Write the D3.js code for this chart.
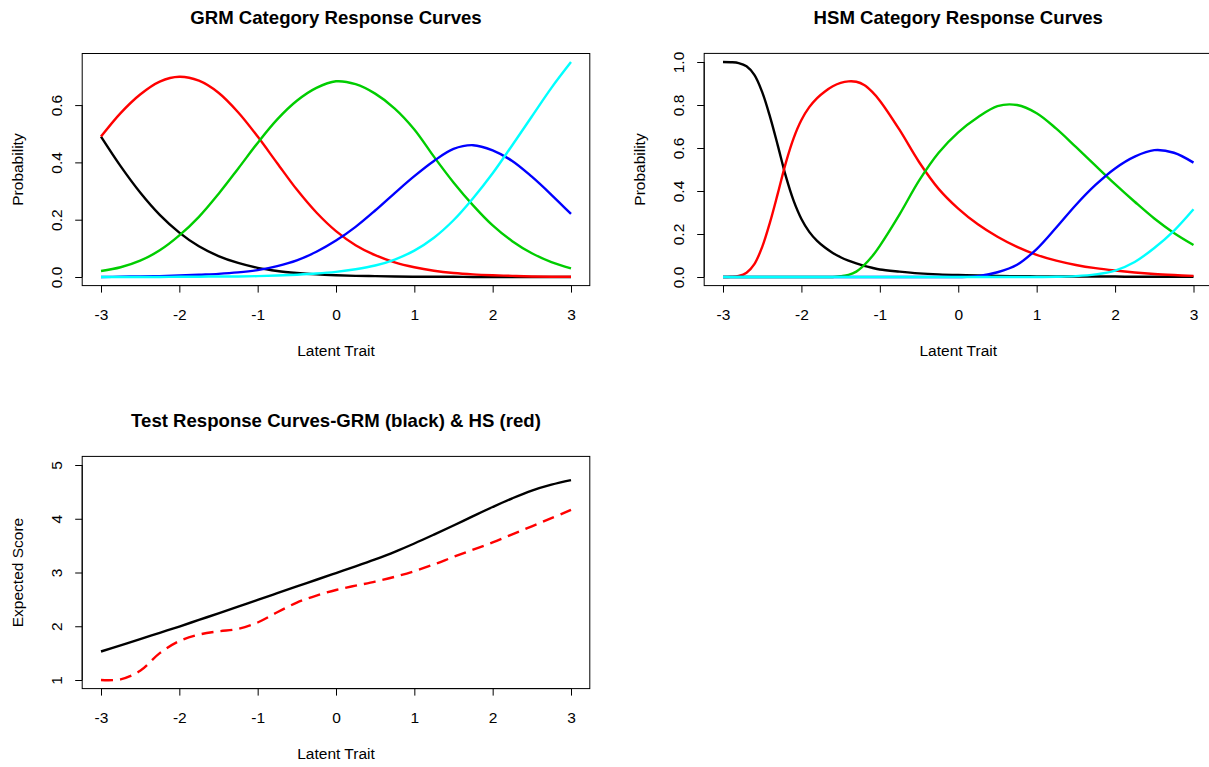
<!DOCTYPE html>
<html>
<head>
<meta charset="utf-8">
<title>GRM and HSM Category Response Curves</title>
<script src="https://d3js.org/d3.v7.min.js"></script>
<style>
  body { margin: 0; background: #fff; }
  svg { display: block; font-family: "Liberation Sans", Arial, Helvetica, sans-serif; }
</style>
</head>
<body>
<script>
// latent trait grid used for the GRM and the test response panel
var grmTheta = [-3, -2.75, -2.5, -2.25, -2, -1.75, -1.5, -1.25, -1, -0.75, -0.5, -0.25, 0,
                0.25, 0.5, 0.75, 1, 1.25, 1.5, 1.75, 2, 2.25, 2.5, 2.75, 3];

// GRM category probabilities
var grmCat1 = [0.49, 0.387, 0.295, 0.217, 0.155, 0.107, 0.073, 0.049, 0.032, 0.021, 0.014, 0.009, 0.006,
               0.004, 0.003, 0.002, 0.001, 0.001, 0.001, 0, 0, 0, 0, 0, 0];
var grmCat2 = [0.49, 0.572, 0.637, 0.682, 0.699, 0.685, 0.643, 0.575, 0.49, 0.397, 0.305, 0.225, 0.16,
               0.111, 0.076, 0.051, 0.034, 0.022, 0.014, 0.009, 0.006, 0.004, 0.002, 0.001, 0.001];
var grmCat3 = [0.021, 0.034, 0.057, 0.093, 0.145, 0.21, 0.29, 0.378, 0.468, 0.55, 0.615, 0.66, 0.683,
               0.673, 0.64, 0.588, 0.515, 0.42, 0.33, 0.25, 0.18, 0.125, 0.083, 0.052, 0.03];
var grmCat4 = [0, 0.001, 0.002, 0.003, 0.005, 0.008, 0.011, 0.016, 0.024, 0.038, 0.058, 0.088, 0.127,
               0.175, 0.232, 0.293, 0.352, 0.405, 0.447, 0.46, 0.442, 0.405, 0.35, 0.287, 0.22];
var grmCat5 = [0, 0, 0, 0, 0.001, 0.001, 0.002, 0.002, 0.003, 0.005, 0.008, 0.012, 0.018,
               0.027, 0.04, 0.061, 0.092, 0.137, 0.198, 0.275, 0.362, 0.46, 0.56, 0.66, 0.75];

// HSM grid is finer where the first curves change fast
var hsmTheta = [-3, -2.9, -2.8, -2.7, -2.6, -2.5, -2.4, -2.3, -2.2, -2.1, -2, -1.9, -1.8, -1.7, -1.6, -1.5,
                -1.4, -1.3, -1.2, -1.1, -1, -0.75, -0.5, -0.25, 0, 0.25, 0.5, 0.75, 1, 1.25, 1.5, 1.75, 2, 2.25, 2.5, 2.75, 3];
var hsmCat1 = [1.0, 0.999, 0.995, 0.98, 0.94, 0.86, 0.745, 0.61, 0.47, 0.355, 0.27, 0.21, 0.168, 0.137, 0.112, 0.092,
               0.076, 0.063, 0.052, 0.043, 0.035, 0.025, 0.017, 0.012, 0.009, 0.007, 0.005, 0.004, 0.003, 0.003, 0.002, 0.002, 0.002, 0.001, 0.001, 0.001, 0.001];
var hsmCat2 = [0, 0.001, 0.005, 0.02, 0.06, 0.14, 0.255, 0.39, 0.53, 0.645, 0.73, 0.79, 0.832, 0.863, 0.887, 0.903,
               0.91, 0.908, 0.893, 0.862, 0.82, 0.685, 0.535, 0.41, 0.318, 0.245, 0.187, 0.14, 0.103, 0.076, 0.056, 0.041, 0.03, 0.021, 0.014, 0.009, 0.005];
var hsmCat3 = [0, 0, 0, 0, 0, 0, 0, 0, 0, 0, 0, 0, 0, 0, 0, 0.004,
               0.01, 0.025, 0.055, 0.095, 0.145, 0.29, 0.448, 0.578, 0.673, 0.743, 0.795, 0.80, 0.762, 0.69, 0.605, 0.518, 0.432, 0.35, 0.272, 0.205, 0.149];
var hsmCat4 = [0, 0, 0, 0, 0, 0, 0, 0, 0, 0, 0, 0, 0, 0, 0, 0,
               0, 0, 0, 0, 0, 0, 0, 0, 0, 0.004, 0.022, 0.057, 0.13, 0.23, 0.335, 0.428, 0.505, 0.56, 0.59, 0.578, 0.532];
var hsmCat5 = [0, 0, 0, 0, 0, 0, 0, 0, 0, 0, 0, 0, 0, 0, 0, 0,
               0, 0, 0, 0, 0, 0, 0, 0, 0, 0, 0, 0, 0, 0.001, 0.004, 0.012, 0.03, 0.07, 0.135, 0.215, 0.315];

// expected test scores, same grid as grmTheta
var testGrm = [1.53, 1.645, 1.76, 1.878, 1.995, 2.118, 2.24, 2.365, 2.49, 2.615, 2.74, 2.865, 2.99,
               3.115, 3.245, 3.385, 3.54, 3.705, 3.875, 4.048, 4.218, 4.38, 4.525, 4.635, 4.72];
var testHs  = [1.0, 1.012, 1.17, 1.5, 1.725, 1.845, 1.905, 1.95, 2.07, 2.26, 2.44, 2.57, 2.675,
               2.755, 2.83, 2.92, 3.025, 3.15, 3.29, 3.425, 3.56, 3.71, 3.86, 4.01, 4.165];

// tick labels
var xTicks = [-3, -2, -1, 0, 1, 2, 3];
var grmYTicks = [0, 0.2, 0.4, 0.6];
var hsmYTicks = [0, 0.2, 0.4, 0.6, 0.8, 1.0];
var testYTicks = [1, 2, 3, 4, 5];

var catColors = ["#000000", "#ff0000", "#00cd00", "#0000ff", "#00ffff"];

var svg = d3.select("body").append("svg")
    .attr("width", 1209)
    .attr("height", 767);
svg.append("rect").attr("width", 1209).attr("height", 767).attr("fill", "#fff");

// draws one R-style panel: box, axes, titles and curves
function drawPanel(p) {
  var x = p.x, y = p.y;
  var g = svg.append("g");
  var left = x(p.xlim[0]), right = x(p.xlim[1]);
  var top = y(p.ylim[1]), bottom = y(p.ylim[0]);

  // curves
  var line = d3.line()
      .x(function(d, i) { return x(p.theta[i]); })
      .y(function(d) { return y(d); })
      .curve(d3.curveCatmullRom.alpha(0.5));
  p.series.forEach(function(s) {
    g.append("path")
      .attr("d", line(s.values))
      .attr("fill", "none")
      .attr("stroke", s.color)
      .attr("stroke-width", 2.4)
      .attr("stroke-dasharray", s.dash || null);
  });

  // box
  g.append("rect")
    .attr("x", left).attr("y", top)
    .attr("width", right - left).attr("height", bottom - top)
    .attr("fill", "none").attr("stroke", "#000").attr("stroke-width", 1);

  // x axis
  var xa = g.append("g")
    .attr("transform", "translate(0," + bottom + ")")
    .call(d3.axisBottom(x).tickValues(xTicks).tickSize(7).tickSizeOuter(0)
          .tickFormat(function(d) { return String(d); }));
  xa.select(".domain").remove();
  xa.append("line")
    .attr("x1", x(xTicks[0])).attr("x2", x(xTicks[xTicks.length - 1]))
    .attr("stroke", "#000");
  xa.selectAll("text").attr("y", 29).attr("dy", "0.35em")
    .attr("font-size", 15.5).attr("font-family", null).attr("fill", "#000");

  // y axis, labels parallel to the axis like R
  var ya = g.append("g")
    .attr("transform", "translate(" + left + ",0)")
    .call(d3.axisLeft(y).tickValues(p.yTicks).tickSize(7).tickSizeOuter(0)
          .tickFormat(p.yFormat));
  ya.select(".domain").remove();
  ya.append("line")
    .attr("y1", y(p.yTicks[0])).attr("y2", y(p.yTicks[p.yTicks.length - 1]))
    .attr("stroke", "#000");
  ya.selectAll("text")
    .attr("x", null).attr("dy", "0.35em")
    .attr("transform", "translate(-26,0) rotate(-90)")
    .attr("text-anchor", "middle")
    .attr("font-size", 15.5).attr("font-family", null).attr("fill", "#000");

  // titles
  var cx = (left + right) / 2;
  g.append("text").attr("x", cx).attr("y", top - 36).attr("dy", "0.35em")
    .attr("text-anchor", "middle").attr("font-size", 18.6).attr("font-weight", "bold")
    .text(p.title);
  g.append("text").attr("x", cx).attr("y", bottom + 65).attr("dy", "0.35em")
    .attr("text-anchor", "middle").attr("font-size", 15.5)
    .text("Latent Trait");
  g.append("text")
    .attr("transform", "translate(" + (left - 65) + "," + ((top + bottom) / 2) + ") rotate(-90)")
    .attr("dy", "0.35em")
    .attr("text-anchor", "middle").attr("font-size", 15.5)
    .text(p.ylab);
}

var fmt1 = d3.format(".1f");

// GRM panel
drawPanel({
  x: d3.scaleLinear().domain([-3, 3]).range([101, 571]),
  y: d3.scaleLinear().domain([0, 0.75]).range([277, 62.1]),
  xlim: [-3.24, 3.24], ylim: [-0.03, 0.78],
  theta: grmTheta,
  series: [grmCat1, grmCat2, grmCat3, grmCat4, grmCat5].map(function(v, i) {
    return { values: v, color: catColors[i] };
  }),
  yTicks: grmYTicks, yFormat: fmt1,
  title: "GRM Category Response Curves", ylab: "Probability"
});

// HSM panel
drawPanel({
  x: d3.scaleLinear().domain([-3, 3]).range([723, 1193.5]),
  y: d3.scaleLinear().domain([0, 1]).range([277, 62]),
  xlim: [-3.24, 3.24], ylim: [-0.04, 1.04],
  theta: hsmTheta,
  series: [hsmCat1, hsmCat2, hsmCat3, hsmCat4, hsmCat5].map(function(v, i) {
    return { values: v, color: catColors[i] };
  }),
  yTicks: hsmYTicks, yFormat: fmt1,
  title: "HSM Category Response Curves", ylab: "Probability"
});

// test response panel
drawPanel({
  x: d3.scaleLinear().domain([-3, 3]).range([101, 571]),
  y: d3.scaleLinear().domain([1, 5]).range([680, 465]),
  xlim: [-3.24, 3.24], ylim: [0.84, 5.16],
  theta: grmTheta,
  series: [
    { values: testGrm, color: "#000000" },
    { values: testHs, color: "#ff0000", dash: "12,7" }
  ],
  yTicks: testYTicks, yFormat: d3.format("d"),
  title: "Test Response Curves-GRM (black) & HS (red)", ylab: "Expected Score"
});
</script>
</body>
</html>
